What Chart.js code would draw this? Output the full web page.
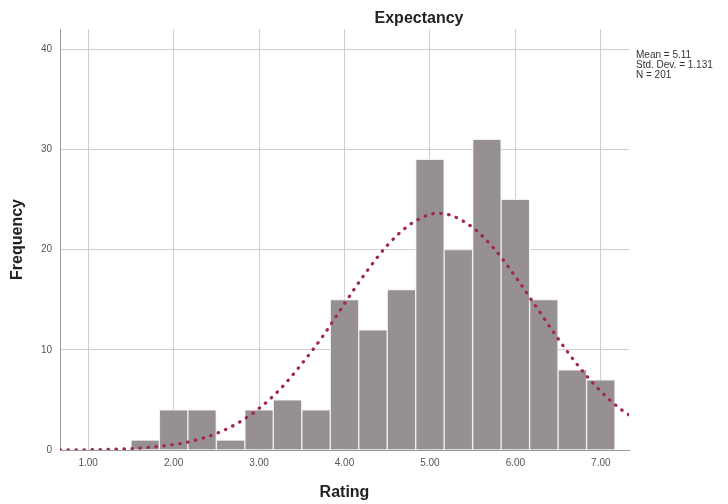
<!DOCTYPE html>
<html>
<head>
<meta charset="utf-8">
<script src="https://cdn.jsdelivr.net/npm/chart.js@4/dist/chart.umd.min.js"></script>
<style>
  html, body { margin: 0; padding: 0; background: #fff; }
  canvas { display: block; }
</style>
</head>
<body>
<canvas id="hist" width="728" height="504"></canvas>
<script>
// histogram bins (bin width 1/3), centres and counts
const binCenters = [1.667, 2.000, 2.333, 2.667, 3.000, 3.333, 3.667, 4.000, 4.333,
                    4.667, 5.000, 5.333, 5.667, 6.000, 6.333, 6.667, 7.000];
const binCounts  = [1, 4, 4, 1, 4, 5, 4, 15, 12, 16, 29, 20, 31, 25, 15, 8, 7];

// normal curve
const curveX = [0.67, 1.00, 1.25, 1.50, 1.75, 2.00, 2.25, 2.50, 2.75, 3.00, 3.25, 3.50,
                3.75, 4.00, 4.25, 4.50, 4.75, 5.00, 5.11, 5.25, 5.50, 5.75, 6.00, 6.25,
                6.50, 6.75, 7.00, 7.25, 7.33];
const curveY = [0.01, 0.03, 0.07, 0.14, 0.29, 0.54, 0.96, 1.64, 2.68, 4.14, 6.1, 8.6,
                11.4, 14.6, 17.7, 20.4, 22.4, 23.5, 23.6, 23.4, 22.2, 20.1, 17.3, 14.2,
                11.1, 8.25, 5.85, 3.95, 3.5];

const xTicks = [1, 2, 3, 4, 5, 6, 7];
const yTicks = [0, 10, 20, 30, 40];
const statsLines = ["Mean = 5.11", "Std. Dev. = 1.131", "N = 201"];

const FONT = "'Liberation Sans', Arial, sans-serif";

// title and the stats note on the right
const textPlugin = {
  id: "texts",
  afterDraw(chart) {
    const ctx = chart.ctx;
    ctx.save();
    ctx.fillStyle = "#222";
    ctx.font = "bold 16px " + FONT;
    ctx.textAlign = "center";
    ctx.textBaseline = "alphabetic";
    ctx.fillText("Expectancy", 419, 23);

    ctx.font = "10px " + FONT;
    ctx.textAlign = "left";
    ctx.textBaseline = "middle";
    ctx.fillStyle = "#333";
    statsLines.forEach((s, i) => ctx.fillText(s, 636, 55 + i * 10));
    ctx.restore();
  }
};

new Chart(document.getElementById("hist"), {
  type: "bar",
  data: {
    datasets: [
      {
        type: "line",
        data: curveX.map((x, i) => ({ x, y: curveY[i] })),
        borderColor: "#a02850",
        borderWidth: 3.2,
        borderDash: [0.5, 7.5],
        borderCapStyle: "round",
        pointRadius: 0,
        cubicInterpolationMode: "monotone",
        fill: false,
        order: 0,
      },
      {
        type: "bar",
        data: binCenters.map((x, i) => ({ x, y: binCounts[i] })),
        backgroundColor: "#979090",
        borderColor: "#f2efef",
        borderWidth: 1,
        barPercentage: 1.0,
        categoryPercentage: 1.0,
        order: 1,
      },
    ],
  },
  options: {
    responsive: false,
    animation: false,
    layout: { padding: { top: 29, right: 99, left: 0, bottom: 0 } },
    plugins: {
      legend: { display: false },
      tooltip: { enabled: false },
      title: { display: false },
    },
    scales: {
      x: {
        type: "linear",
        min: 0.67,
        max: 7.33,
        offset: false,
        afterBuildTicks: (s) => { s.ticks = xTicks.map((v) => ({ value: v })); },
        afterFit: (s) => { s.height = 54; },
        ticks: {
          callback: (v) => Number(v).toFixed(2),
          font: { family: FONT, size: 10 },
          color: "#555",
          padding: 7,
          maxRotation: 0,
          autoSkip: false,
        },
        grid: { color: "#cfcfcf", drawTicks: false, offset: false },
        border: { color: "#9a9a9a" },
        title: {
          display: true,
          text: "Rating",
          color: "#222",
          font: { family: FONT, size: 16, weight: "bold" },
          padding: { top: 0, bottom: 2 },
        },
      },
      y: {
        min: 0,
        max: 42,
        afterBuildTicks: (s) => { s.ticks = yTicks.map((v) => ({ value: v })); },
        afterFit: (s) => { s.width = 60; },
        ticks: {
          font: { family: FONT, size: 10 },
          color: "#555",
          padding: 8,
        },
        grid: {
          color: (c) => (c.tick && c.tick.value === 0 ? "#9a9a9a" : "#cfcfcf"),
          drawTicks: false,
        },
        border: { color: "#9a9a9a" },
        title: {
          display: true,
          text: "Frequency",
          color: "#222",
          font: { family: FONT, size: 16, weight: "bold" },
          padding: { top: 8, bottom: 0 },
        },
      },
    },
  },
  plugins: [textPlugin],
});
</script>
</body>
</html>
